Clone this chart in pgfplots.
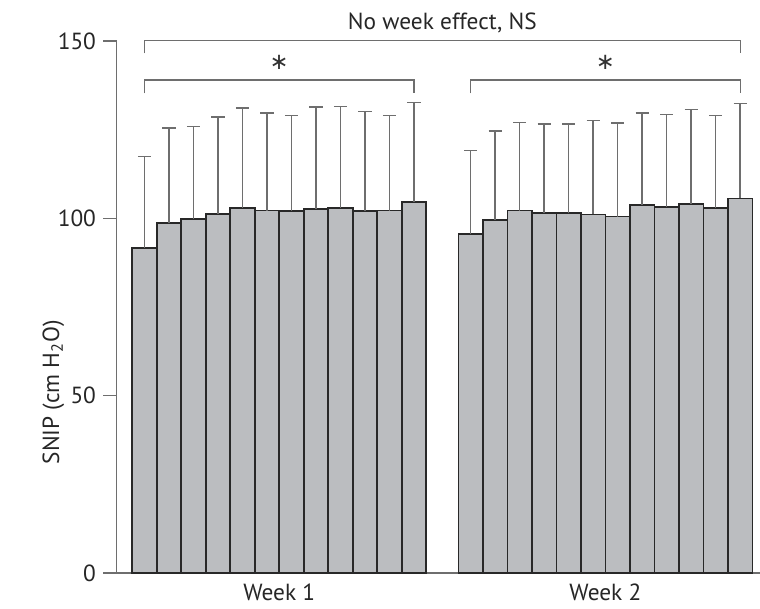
\documentclass[border=0pt]{standalone}
\usepackage{pgfplots}
\pgfplotsset{compat=1.18}
\usepackage{fontspec}
\setmainfont{PT Sans}
\newfontfamily\dejavu{DejaVu Sans}
\definecolor{barfill}{RGB}{187,189,192}
\definecolor{baredge}{RGB}{40,40,40}
\definecolor{axgray}{RGB}{110,110,110}
\begin{document}
\begin{tikzpicture}
\begin{axis}[
  name=ax,
  scale only axis,
  width=482.5pt, height=399pt,
  xmin=-1.135, xmax=25.12,
  ymin=0, ymax=150,
  clip=false,
  axis y line*=left, axis x line*=bottom,
  axis line style={axgray, line width=1pt},
  ytick={0,50,100,150},
  tick align=outside,
  major tick length=10pt,
  ytick style={axgray, line width=1pt},
  xtick={5.5,18.81},
  xticklabels={Week 1, Week 2},
  xtick style={draw=none},
  xticklabel style={yshift=5pt},
  /pgf/number format/assume math mode=true,
  tick label style={font=\fontsize{17.5}{20}\selectfont, text=black!85},
  yticklabel style={xshift=-2pt},
  ylabel={SNIP (cm H\textsubscript{2}O)},
  every axis y label/.style={at={(ticklabel cs:0.5)}, rotate=90, anchor=center, xshift=-64pt,
    font=\fontsize{17.5}{20}\selectfont, text=black!85},
]
\addplot[ybar, bar width=18.375pt, bar shift=0pt, fill=barfill, draw=baredge, line width=1.3pt,
  error bars/.cd, y dir=plus, y explicit,
  error bar style={axgray, line width=1pt},
  error mark options={rotate=90, mark size=4.9pt, axgray, line width=1pt}]
  table[x=x, y=y, y error=e] {
x y e
0 91.7 25.7
1 98.6 26.9
2 99.9 26.0
3 101.3 27.3
4 103.0 28.1
5 102.2 27.5
6 102.1 26.8
7 102.6 28.8
8 103.0 28.5
9 102.0 28.2
10 102.2 26.7
11 104.6 28.1
13.31 95.5 23.6
14.31 99.6 25.0
15.31 102.2 24.9
16.31 101.4 25.2
17.31 101.4 25.2
18.31 101.1 26.4
19.31 100.5 26.4
20.31 103.7 26.0
21.31 103.2 26.1
22.31 104.0 26.6
23.31 103.0 25.9
24.31 105.6 26.8
};
\draw[axgray, line width=0.9pt] (axis cs:0,146.5) -- (axis cs:0,150.2) -- (axis cs:24.31,150.2) -- (axis cs:24.31,146.5);
\draw[axgray, line width=0.9pt] (axis cs:0,135.2) -- (axis cs:0,139.0) -- (axis cs:11,139.0) -- (axis cs:11,135.2);
\draw[axgray, line width=0.9pt] (axis cs:13.31,135.2) -- (axis cs:13.31,139.0) -- (axis cs:24.31,139.0) -- (axis cs:24.31,135.2);
\node[font=\dejavu\fontsize{17}{19}\selectfont, text=black!80, inner sep=0pt] at (axis cs:5.5,143.9) {∗};
\node[font=\dejavu\fontsize{17}{19}\selectfont, text=black!80, inner sep=0pt] at (axis cs:18.81,143.9) {∗};
\node[anchor=base, font=\fontsize{17.5}{20}\selectfont, text=black!85, inner sep=0pt] at (axis cs:12.155,153.1) {No week effect, NS};
\end{axis}
\pgfresetboundingbox
\path ([shift={(-87.5pt,-27pt)}]ax.south west) rectangle ([shift={(482.5pt,429.75pt)}]ax.south west);
\end{tikzpicture}
\end{document}
